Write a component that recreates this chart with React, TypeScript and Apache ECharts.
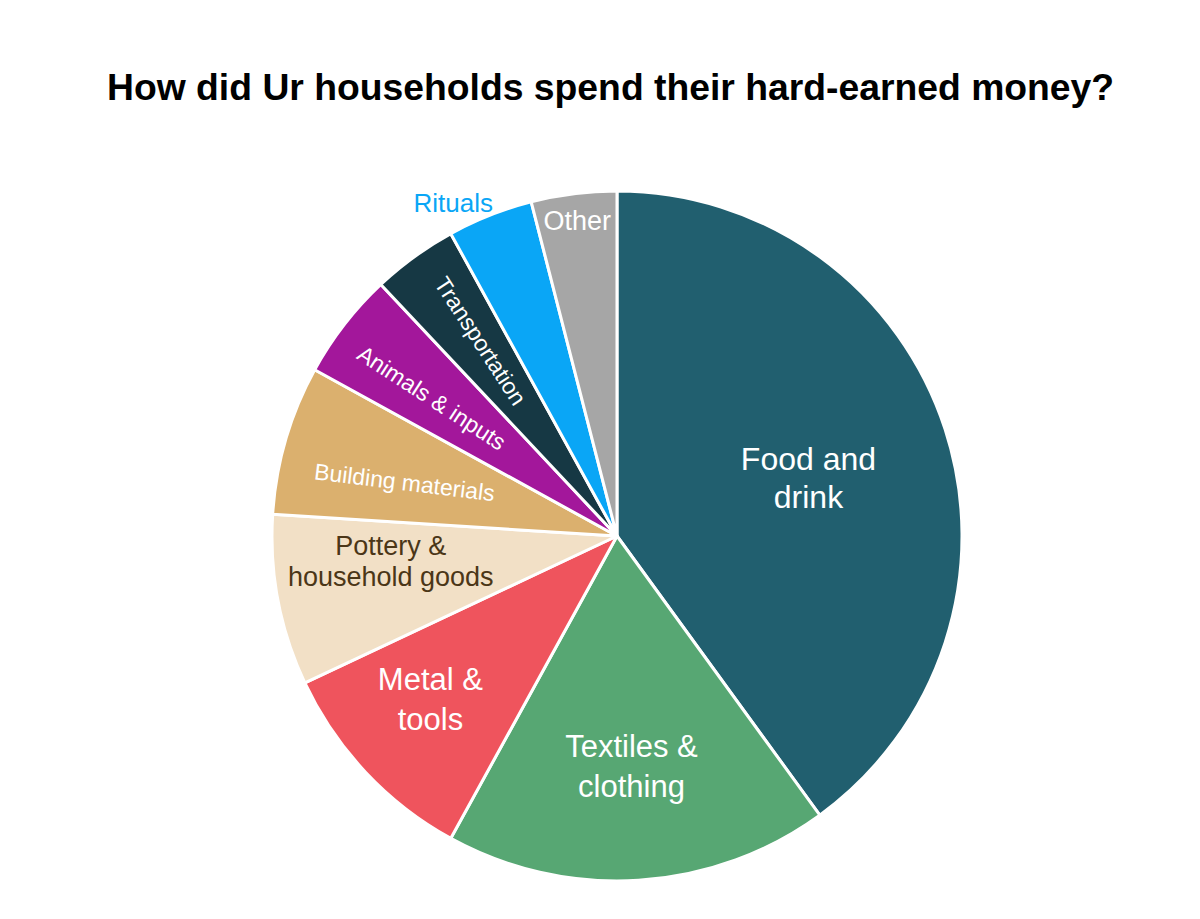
import React, { useEffect, useRef } from "react";
import * as echarts from "echarts";

const TITLE = "How did Ur households spend their hard-earned money?";
const categories = [
  "Food and drink",
  "Textiles & clothing",
  "Metal & tools",
  "Pottery & household goods",
  "Building materials",
  "Animals & inputs",
  "Transportation",
  "Rituals",
  "Other",
];
const labelTexts = [
  "Food and\ndrink",
  "Textiles &\nclothing",
  "Metal &\ntools",
  "Pottery &\nhousehold goods",
  "Building materials",
  "Animals & inputs",
  "Transportation",
  "Rituals",
  "Other",
];
const values = [40, 18, 10, 8, 7, 5, 4, 4, 4];
const colors = [
  "#215F6F",
  "#57A773",
  "#EF545D",
  "#F2E0C6",
  "#DBB06E",
  "#A3179B",
  "#163844",
  "#0AA6F6",
  "#A6A6A6",
];
const labelColors = [
  "#ffffff",
  "#ffffff",
  "#ffffff",
  "#4B3617",
  "#ffffff",
  "#ffffff",
  "#ffffff",
  "#0AA6F6",
  "#ffffff",
];
const labelSizes = [32, 31, 31, 27, 23, 23, 23, 26, 27];
const labelLineH = [38, 40, 40, 31, 26, 26, 26, 28, 30];
// label placement: radial fraction of radius, angle shift (deg), rotation (deg)
const labelRadial = [0.58, 0.668, 0.72, 0.66, 0.635, 0.67, 0.69, 1.075, 0.92];
const labelShift = [1.1, 0, 1.9, 4.3, -2, -1.1, 1, -4.6, 0];
const labelRotate = [0, 0, 0, 0, -7, -33, -57, 0, 0];

const CX = 617;
const CY = 536;
const R = 345;
const FONT = "'Helvetica Neue', Helvetica, Arial, 'Liberation Sans', sans-serif";

export default function App() {
  const ref = useRef<HTMLDivElement>(null);
  useEffect(() => {
    if (!ref.current) return;
    const chart = echarts.init(ref.current, undefined, { renderer: "svg" });
    const total = values.reduce((a, b) => a + b, 0);
    const mids: number[] = [];
    let cum = 0;
    values.forEach((v) => {
      mids.push(((cum + v / 2) / total) * 360);
      cum += v;
    });
    chart.setOption({
      animation: false,
      backgroundColor: "#ffffff",
      title: {
        text: TITLE,
        left: 102,
        top: 63,
        textStyle: {
          fontFamily: FONT,
          fontWeight: "bold",
          fontSize: 37.3,
          color: "#000000",
        },
      },
      series: [
        {
          type: "pie",
          center: [CX, CY],
          radius: [0, R],
          startAngle: 90,
          clockwise: true,
          avoidLabelOverlap: false,
          itemStyle: { borderColor: "#ffffff", borderWidth: 3 },
          label: {
            show: true,
            position: "inside",
            fontFamily: FONT,
          },
          labelLine: { show: false },
          labelLayout: (params: any) => {
            const i = params.dataIndex;
            const ang = ((mids[i] + labelShift[i]) * Math.PI) / 180;
            const d = labelRadial[i] * R;
            return {
              x: CX + d * Math.sin(ang),
              y: CY - d * Math.cos(ang),
              align: "center",
              verticalAlign: "middle",
              rotate: labelRotate[i],
              hideOverlap: false,
            };
          },
          data: categories.map((name, i) => ({
            name,
            value: values[i],
            itemStyle: { color: colors[i] },
            label: {
              formatter: labelTexts[i],
              color: labelColors[i],
              fontSize: labelSizes[i],
              lineHeight: labelLineH[i],
              align: "center",
            },
          })),
        },
      ],
    });
    return () => chart.dispose();
  }, []);
  return (
    <div
      ref={ref}
      style={{ position: "fixed", left: 0, top: 0, width: 1200, height: 919, background: "#fff" }}
    />
  );
}
